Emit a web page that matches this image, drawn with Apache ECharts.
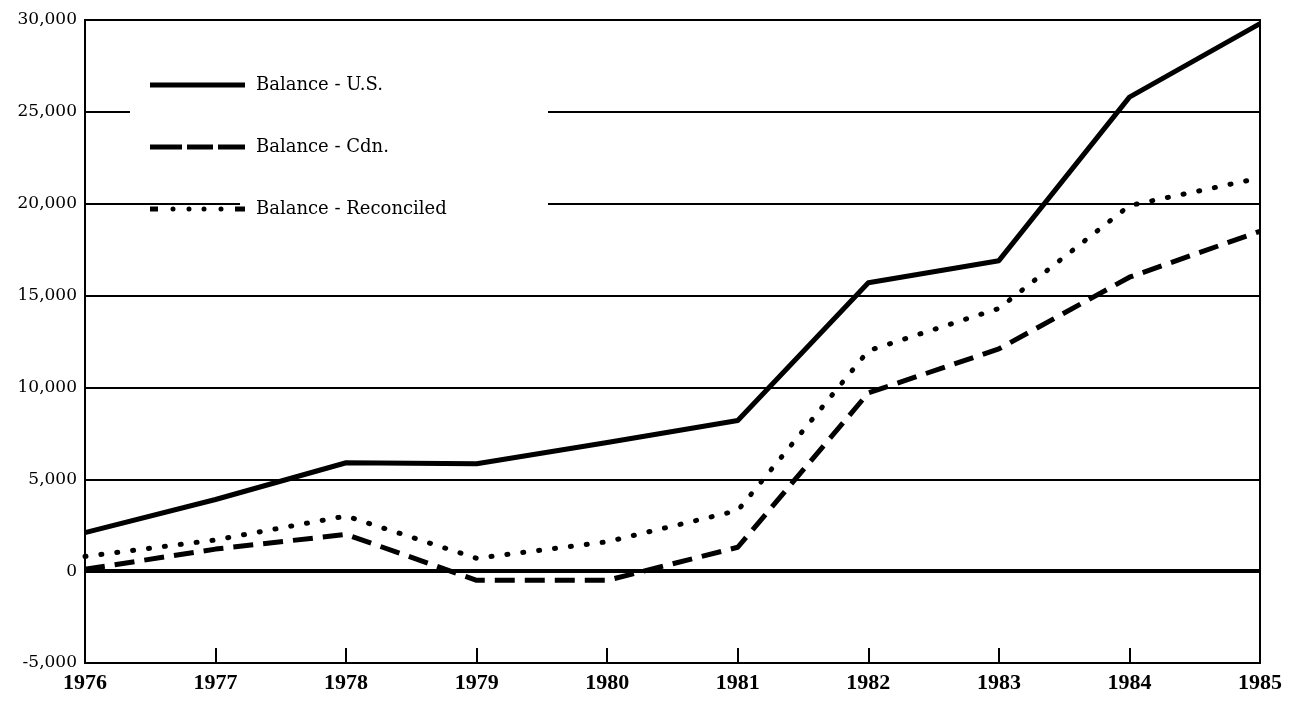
<!DOCTYPE html>
<html>
<head>
<meta charset="utf-8">
<script src="https://cdn.jsdelivr.net/npm/echarts@6/dist/echarts.min.js"></script>
<style>
  html, body { margin: 0; padding: 0; background: #fff; }
  #chart { width: 1294px; height: 706px; }
</style>
</head>
<body>
<div id="chart"></div>
<script>
// Trade balance, 1976-1985 (millions)
const years = ['1976', '1977', '1978', '1979', '1980', '1981', '1982', '1983', '1984', '1985'];
const balanceUS = [2100, 3900, 5900, 5850, 7000, 8200, 15700, 16900, 25800, 29800];
const balanceCdn = [100, 1200, 2000, -500, -500, 1300, 9700, 12100, 16000, 18500];
const balanceReconciled = [800, 1700, 3000, 700, 1600, 3300, 12000, 14300, 19900, 21400];
const yTicks = { min: -5000, max: 30000, step: 5000 };

const chart = echarts.init(document.getElementById('chart'), null, { renderer: 'canvas' });

const serif = '"DejaVu Serif", "Liberation Serif", serif';

// key swatches, 95 x 5 units: solid bar, long dashes, dash-dots-dash
const iconSolid = 'path://M0,0 H95 V5 H0 Z';
const iconDashed = 'path://M0,0 H32 V5 H0 Z M37,0 H63 V5 H37 Z M68,0 H95 V5 H68 Z';
const dot = cx => `M${cx - 2.5},2.5 a2.5,2.5 0 1,0 5,0 a2.5,2.5 0 1,0 -5,0 Z`;
const iconDotted = 'path://M0,0 H8 V5 H0 Z ' + [23, 39, 54, 71].map(dot).join(' ') + ' M85,0 H95 V5 H85 Z';

chart.setOption({
  backgroundColor: '#ffffff',
  animation: false,
  grid: {
    left: 85, right: 34, top: 20, bottom: 43,
    show: true, borderColor: '#000', borderWidth: 2, backgroundColor: 'transparent'
  },
  // white patch behind the key, breaking the grid lines there
  graphic: [
    { type: 'rect', z: 10, shape: { x: 130, y: 45, width: 418, height: 148 }, style: { fill: '#fff' } },
    { type: 'rect', z: 10, shape: { x: 240, y: 193, width: 308, height: 32 }, style: { fill: '#fff' } }
  ],
  legend: {
    z: 20,
    orient: 'vertical',
    left: 145,
    top: 71,
    itemWidth: 95,
    itemHeight: 5,
    itemGap: 44,
    itemStyle: { color: '#000', borderWidth: 0 },
    textStyle: { fontFamily: serif, fontSize: 18, color: '#000', padding: [0, 0, 0, 6] },
    data: [
      { name: 'Balance - U.S.', icon: iconSolid },
      { name: 'Balance - Cdn.', icon: iconDashed },
      { name: 'Balance - Reconciled', icon: iconDotted }
    ]
  },
  xAxis: {
    type: 'category',
    data: years,
    boundaryGap: false,
    axisLine: { show: true, onZero: false, lineStyle: { color: '#000', width: 2 } },
    axisTick: { show: true, inside: true, length: 15, lineStyle: { color: '#000', width: 2 } },
    axisLabel: {
      margin: 9,
      fontFamily: '"Liberation Serif", serif',
      fontWeight: 'bold',
      fontSize: 22,
      color: '#000'
    },
    splitLine: { show: false }
  },
  yAxis: {
    type: 'value',
    min: yTicks.min,
    max: yTicks.max,
    interval: yTicks.step,
    axisLine: { show: true, lineStyle: { color: '#000', width: 2 } },
    axisTick: { show: false },
    axisLabel: {
      margin: 8,
      fontFamily: serif,
      fontSize: 17,
      color: '#000',
      formatter: v => v.toLocaleString('en-US')
    },
    splitLine: { show: true, lineStyle: { color: '#000', width: 2 } }
  },
  series: [
    {
      name: 'Balance - U.S.',
      type: 'line',
      data: balanceUS,
      symbol: 'none',
      lineStyle: { color: '#000', width: 5, type: 'solid', join: 'round' },
      itemStyle: { color: '#000' },
      markLine: {
        silent: true,
        symbol: 'none',
        label: { show: false },
        lineStyle: { color: '#000', width: 4, type: 'solid' },
        data: [{ yAxis: 0 }]
      }
    },
    {
      name: 'Balance - Cdn.',
      type: 'line',
      data: balanceCdn,
      symbol: 'none',
      lineStyle: { color: '#000', width: 5, type: [20, 10], cap: 'butt', join: 'round' },
      itemStyle: { color: '#000' }
    },
    {
      name: 'Balance - Reconciled',
      type: 'line',
      data: balanceReconciled,
      symbol: 'none',
      lineStyle: { color: '#000', width: 5, type: [1, 15], cap: 'round', join: 'round' },
      itemStyle: { color: '#000' }
    }
  ]
});
</script>
</body>
</html>
